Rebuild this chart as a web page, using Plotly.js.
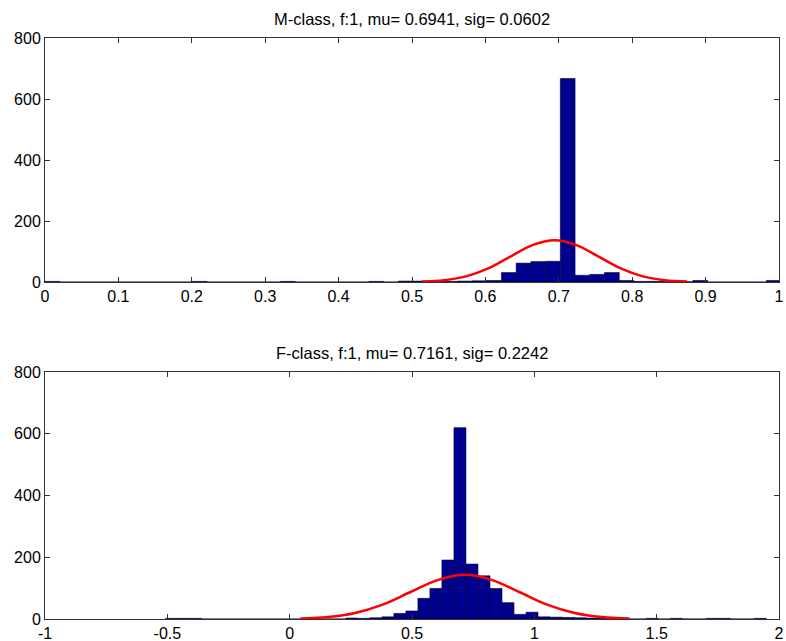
<!DOCTYPE html>
<html>
<head>
<meta charset="utf-8">
<script src="https://cdn.plot.ly/plotly-3.0.1.min.js"></script>
<style>
html,body{margin:0;padding:0;background:#fff;}
#chart{width:786px;height:641px;}
</style>
</head>
<body>
<div id="chart"></div>
<script>
// ---- Top panel (M-class) ----
const mTitle = "M-class, f:1, mu= 0.6941, sig= 0.0602";
const mBinStart = 0.0;
const mBinWidth = 0.02006;
const mCounts = [2,0,0,0,0,0,0,0,0,0,
                 2,0,0,0,0,0,2,0,0,0,
                 0,0,2,0,3,3,1,2,3,4,
                 5,31,62,67,68,667,22,25,31,5,
                 2,2,1,1,5,0,0,0,0,5];
const mFitX = [0.5135,0.5436,0.5737,0.6038,0.6339,0.664,0.6941,0.7242,0.7543,0.7844,0.8145,0.8446,0.8747];
const mFitY = [1.5,6,18.5,44.5,83,121,137,121,83,44.5,18.5,6,1.5];
const mTickVals = [0,0.1,0.2,0.3,0.4,0.5,0.6,0.7,0.8,0.9,1];
const mTickText = ["0","0.1","0.2","0.3","0.4","0.5","0.6","0.7","0.8","0.9","1"];

// ---- Bottom panel (F-class) ----
const fTitle = "F-class, f:1, mu= 0.7161, sig= 0.2242";
const fBinStart = -0.507;
const fBinWidth = 0.0491;
const fCounts = [2,2,2,0,0,0,0,0,0,0,
                 0,0,0,0,0,3,2,4,7,18,
                 26,67,99,191,620,178,140,99,53,15,
                 22,7,6,5,4,3,2,1,0,0,
                 2,0,2,0,0,2,2,0,0,2];
const fFitX = [0.0435,0.156,0.2677,0.3798,0.4919,0.604,0.7161,0.8282,0.9403,1.0524,1.1645,1.2766,1.3887];
const fFitY = [1.6,6.3,19.4,46.4,86.7,126,143,126,86.7,46.4,19.4,6.3,1.6];
const fTickVals = [-1,-0.5,0,0.5,1,1.5,2];
const fTickText = ["-1","-0.5","0","0.5","1","1.5","2"];

const yTickVals = [0,200,400,600,800];
const yTickText = ["0","200","400","600","800"];

function centers(start, w, n){ const c=[]; for(let i=0;i<n;i++) c.push(start + w*(i+0.5)); return c; }

const barColor = '#00008F';
const fitColor = '#FF0000';

const traces = [
  {type:'bar', x:centers(mBinStart,mBinWidth,mCounts.length), y:mCounts, width:mBinWidth,
   marker:{color:barColor, line:{color:'#00003a', width:0.6}}, xaxis:'x', yaxis:'y', hoverinfo:'x+y'},
  {type:'scatter', mode:'lines', x:mFitX, y:mFitY, line:{color:fitColor, width:2.5, shape:'spline'}, xaxis:'x', yaxis:'y'},
  {type:'bar', x:centers(fBinStart,fBinWidth,fCounts.length), y:fCounts, width:fBinWidth,
   marker:{color:barColor, line:{color:'#00003a', width:0.6}}, xaxis:'x2', yaxis:'y2', hoverinfo:'x+y'},
  {type:'scatter', mode:'lines', x:fFitX, y:fFitY, line:{color:fitColor, width:2.5, shape:'spline'}, xaxis:'x2', yaxis:'y2'}
];

const axBase = {showline:true, mirror:'ticks', linecolor:'#333', linewidth:1, ticks:'inside', ticklen:5,
  tickcolor:'#333', showgrid:false, zeroline:false, tickfont:{family:'Liberation Sans, Arial, sans-serif', size:16, color:'#000'},
  tickmode:'array', fixedrange:true};

const layout = {
  width:786, height:641,
  margin:{l:45, r:7, t:38, b:22},
  paper_bgcolor:'#fff', plot_bgcolor:'#fff',
  showlegend:false, bargap:0,
  font:{family:'Liberation Sans, Arial, sans-serif', color:'#000'},
  xaxis: Object.assign({}, axBase, {domain:[0,1], range:[0,1], tickvals:mTickVals, ticktext:mTickText, anchor:'y', ticklabelstandoff:0}),
  yaxis: Object.assign({}, axBase, {domain:[0.58,1], range:[0,800], tickvals:yTickVals, ticktext:yTickText, anchor:'x', ticklabelstandoff:0}),
  xaxis2: Object.assign({}, axBase, {domain:[0,1], range:[-1,2], tickvals:fTickVals, ticktext:fTickText, anchor:'y2', ticklabelstandoff:0}),
  yaxis2: Object.assign({}, axBase, {domain:[0,0.425], range:[0,800], tickvals:yTickVals, ticktext:yTickText, anchor:'x2', ticklabelstandoff:0}),
  annotations:[
    {text:mTitle, xref:'paper', yref:'paper', x:0.5, y:1, yanchor:'bottom', yshift:8, showarrow:false,
     font:{size:16.5, color:'#000'}},
    {text:fTitle, xref:'paper', yref:'paper', x:0.5, y:0.425, yanchor:'bottom', yshift:8, showarrow:false,
     font:{size:16.5, color:'#000'}}
  ]
};

Plotly.newPlot('chart', traces, layout, {displayModeBar:false, staticPlot:true});
</script>
</body>
</html>
